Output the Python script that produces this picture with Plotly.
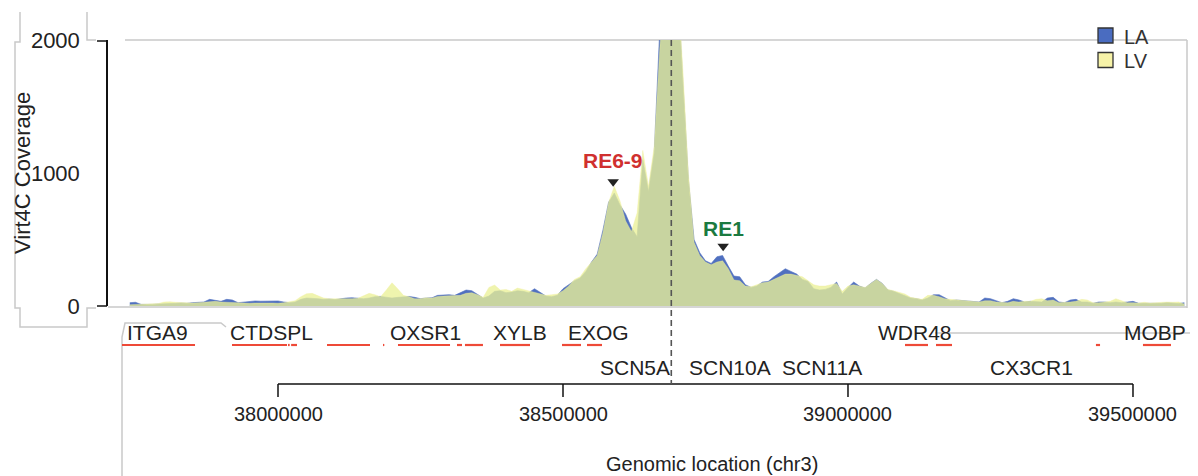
import numpy as np
import plotly.graph_objects as go

# ---------------- data ----------------
bin_start = 37_740_000
bin_step = 10_000
la = [25, 28, 12, 10, 12, 15, 15, 18, 20, 22, 20, 25, 28, 30, 50, 45, 35, 50, 45, 25,
      30, 38, 38, 36, 38, 35, 38, 30, 25, 30, 50, 60, 60, 55, 50, 52, 48, 55, 60, 62,
      60, 55, 60, 70, 72, 65, 60, 65, 70, 72, 65, 55, 60, 62, 80, 82, 85, 80, 100, 120,
      115, 90, 60, 75, 110, 115, 100, 105, 115, 110, 100, 130, 100, 75, 70, 80, 130, 158, 190, 210,
      260, 330, 390, 570, 780, 850, 760, 690, 590, 520, 1100, 860, 1150, 2100, 2500, 2500, 2500, 1700, 950, 500,
      400, 340, 320, 370, 380, 300, 225, 220, 160, 140, 150, 180, 185, 220, 250, 280, 260, 240, 200, 185,
      130, 120, 125, 140, 180, 90, 140, 180, 150, 135, 170, 200, 170, 120, 110, 95, 75, 60, 55, 45,
      60, 85, 85, 60, 40, 45, 40, 35, 30, 30, 60, 55, 40, 25, 35, 55, 45, 30, 35, 35,
      30, 60, 65, 30, 25, 45, 50, 30, 30, 20, 30, 30, 25, 30, 25, 30, 35, 20, 20, 15,
      20, 20, 25, 22, 18, 25]
lv = [10, 12, 12, 12, 15, 18, 30, 32, 28, 25, 25, 22, 25, 28, 30, 35, 30, 28, 25, 20,
      22, 20, 22, 20, 22, 22, 20, 25, 30, 40, 70, 92, 95, 80, 60, 55, 55, 50, 52, 55,
      58, 75, 95, 85, 70, 120, 175, 130, 80, 70, 55, 55, 62, 60, 72, 75, 75, 80, 80, 95,
      100, 85, 65, 140, 158, 120, 125, 110, 135, 125, 115, 105, 90, 80, 85, 90, 115, 150, 200, 220,
      280, 330, 380, 550, 780, 900, 790, 640, 560, 700, 1170, 900, 1200, 1950, 2500, 2500, 2500, 1800, 1000, 480,
      380, 330, 310, 330, 340, 280, 195, 190, 150, 145, 160, 175, 180, 200, 220, 240, 240, 230, 220, 190,
      160, 150, 150, 160, 170, 110, 150, 160, 150, 140, 170, 200, 170, 125, 115, 100, 90, 65, 55, 50,
      80, 80, 70, 55, 50, 45, 45, 40, 30, 30, 40, 40, 30, 25, 25, 35, 30, 35, 35, 50,
      55, 40, 45, 25, 25, 30, 35, 50, 45, 25, 25, 30, 35, 55, 40, 25, 25, 22, 28, 22,
      25, 30, 30, 28, 30, 15]
positions = bin_start + bin_step * np.arange(len(la))

series_names = ["LA", "LV"]

gene_names = ["ITGA9", "CTDSPL", "OXSR1", "XYLB", "EXOG", "WDR48", "MOBP",
              "SCN5A", "SCN10A", "SCN11A", "CX3CR1"]
gene_label_start = [37_731_600, 37_912_300, 38_193_000, 38_373_700, 38_505_300,
                    39_049_100, 39_481_000, 38_561_400, 38_717_500, 38_880_700, 39_245_600]
gene_row = [1, 1, 1, 1, 1, 1, 1, 2, 2, 2, 2]

exon_start = [37_726_300, 37_919_300, 38_017_500, 38_023_000, 38_086_000, 38_184_200,
              38_210_500, 38_314_000, 38_328_000, 38_389_500, 38_498_200, 38_542_100,
              39_100_000, 39_154_400, 39_435_000, 39_517_500]
exon_end = [37_854_400, 38_015_800, 38_020_500, 38_033_300, 38_161_400, 38_186_500,
            38_301_800, 38_322_800, 38_359_600, 38_442_100, 38_531_600, 38_568_400,
            39_140_400, 39_182_500, 39_442_200, 39_566_700]

scale_ticks = [38_000_000, 38_500_000, 39_000_000, 39_500_000]
scale_labels = ["38000000", "38500000", "39000000", "39500000"]

tss_position = 38_690_000

re_names = ["RE6-9", "RE1"]
re_positions = [38_588_000, 38_781_000]
re_marker_y = [935, 450]
re_label_y = [1095, 585]
re_colors = ["#d0302f", "#1b7a40"]

y_ticks = [0, 1000, 2000]

# ---------------- layout helpers ----------------
# the page body has an 8px margin, so the figure is drawn 8px in from the corner
OFF = 8
W, H = 1198 - OFF, 476 - OFF
REF_L, REF_R, REF_T, REF_B = 108, 1185, 40, 306   # plot area in page pixels
PW = REF_R - REF_L
PH = REF_B - REF_T
ML = REF_L - OFF
MT = REF_T - OFF
MR = W - (REF_R - OFF)
MB = H - (REF_B - OFF)


def px2x(px):
    return (px - REF_L) / PW


def py2y(py):
    return (REF_B - py) / PH


FONT = "Liberation Sans, Arial, sans-serif"
TXT = "#222222"
BLUE = "#5070c0"
YELLOW = "rgba(235,241,151,0.78)"
GRAY = "#c9c9c9"
legend_fill = ["#4a6cc0", "#f7f3a8"]

fig = go.Figure()

fig.add_trace(go.Scatter(x=positions, y=la, mode="lines", fill="tozeroy", name=series_names[0],
                         line=dict(color=BLUE, width=0.6), fillcolor=BLUE,
                         showlegend=False, hoverinfo="skip"))
fig.add_trace(go.Scatter(x=positions, y=lv, mode="lines", fill="tozeroy", name=series_names[1],
                         line=dict(color="rgba(240,238,160,0.6)", width=0.6), fillcolor=YELLOW,
                         showlegend=False, hoverinfo="skip"))

# RE markers
fig.add_trace(go.Scatter(x=re_positions, y=re_marker_y, mode="markers",
                         marker=dict(symbol="triangle-down", size=10, color="#222"),
                         showlegend=False, hoverinfo="skip", cliponaxis=False))

shapes = []
annotations = []

for name, xpos, ly, col in zip(re_names, re_positions, re_label_y, re_colors):
    annotations.append(dict(x=xpos, y=ly, xref="x", yref="y", text="<b>%s</b>" % name,
                            showarrow=False, font=dict(family=FONT, size=21, color=col),
                            xanchor="center", yanchor="middle"))

# plot frame (grey)
shapes.append(dict(type="line", xref="paper", yref="paper", x0=px2x(125), x1=px2x(1187),
                   y0=1, y1=1, line=dict(color=GRAY, width=1.5), layer="below"))
shapes.append(dict(type="line", xref="paper", yref="paper", x0=px2x(1187), x1=px2x(1187),
                   y0=1, y1=py2y(308), line=dict(color=GRAY, width=1.5), layer="below"))
shapes.append(dict(type="line", xref="paper", yref="paper", x0=0, x1=px2x(1187),
                   y0=py2y(307), y1=py2y(307), line=dict(color=GRAY, width=1.5), layer="below"))

# legend (drawn by hand so it sits exactly like the reference)
legend_rows_py = [35.5, 60]
for name, fillc, cy in zip(series_names, legend_fill, legend_rows_py):
    shapes.append(dict(type="rect", xref="paper", yref="paper",
                       x0=px2x(1098), x1=px2x(1113), y0=py2y(cy - 7.5), y1=py2y(cy + 7.5),
                       fillcolor=fillc, line=dict(color="#333", width=1.3)))
    annotations.append(dict(x=px2x(1122), y=py2y(cy + 1), xref="paper", yref="paper",
                            text=name, showarrow=False, xanchor="left", yanchor="middle",
                            font=dict(family=FONT, size=20, color="#333")))

# y-axis end ticks
for py in (41, 306):
    shapes.append(dict(type="line", xref="paper", yref="paper", x0=px2x(97), x1=px2x(107),
                       y0=py2y(py), y1=py2y(py), line=dict(color="#111", width=1.5)))

# left panel outline (grey)
left_path_pts = [(20, 12), (20, 42), (15, 42), (15, 308), (20, 308), (20, 327),
                 (87, 327), (87, 308), (96, 308)]
path = "M " + " L ".join("%f,%f" % (px2x(a), py2y(b)) for a, b in left_path_pts)
shapes.append(dict(type="path", xref="paper", yref="paper", path=path,
                   line=dict(color=GRAY, width=1.5)))
top_path_pts = [(87, 12), (87, 40), (96, 40)]
path = "M " + " L ".join("%f,%f" % (px2x(a), py2y(b)) for a, b in top_path_pts)
shapes.append(dict(type="path", xref="paper", yref="paper", path=path,
                   line=dict(color=GRAY, width=1.5)))

# gene panel outline (grey)
gene_path_pts = [(122, 480), (122, 337), (125, 323), (221, 323), (226, 327)]
path = "M " + " L ".join("%f,%f" % (px2x(a), py2y(b)) for a, b in gene_path_pts)
shapes.append(dict(type="path", xref="paper", yref="paper", path=path,
                   line=dict(color=GRAY, width=1.5)))
shapes.append(dict(type="line", xref="paper", yref="paper", x0=px2x(935), x1=px2x(1198),
                   y0=py2y(333), y1=py2y(333), line=dict(color=GRAY, width=1.5)))

# exons
for s, e in zip(exon_start, exon_end):
    shapes.append(dict(type="line", xref="x", yref="paper", x0=s, x1=e,
                       y0=py2y(345), y1=py2y(345), line=dict(color="#ee4a38", width=2.2)))

# gene labels
row_y = {1: py2y(332), 2: py2y(367)}
for name, s, r in zip(gene_names, gene_label_start, gene_row):
    annotations.append(dict(x=s, y=row_y[r], xref="x", yref="paper", text=name,
                            showarrow=False, xanchor="left", yanchor="middle",
                            font=dict(family=FONT, size=21, color=TXT)))

# scale bar
shapes.append(dict(type="line", xref="x", yref="paper", x0=scale_ticks[0], x1=scale_ticks[-1],
                   y0=py2y(384), y1=py2y(384), line=dict(color="#111", width=1.5)))
for t, lab in zip(scale_ticks, scale_labels):
    shapes.append(dict(type="line", xref="x", yref="paper", x0=t, x1=t,
                       y0=py2y(384), y1=py2y(397), line=dict(color="#111", width=1.5)))
    annotations.append(dict(x=t, y=py2y(414), xref="x", yref="paper", text=lab,
                            showarrow=False, xanchor="center", yanchor="middle",
                            font=dict(family=FONT, size=20, color=TXT)))
annotations.append(dict(x=px2x(712), y=py2y(464), xref="paper", yref="paper",
                        text="Genomic location (chr3)", showarrow=False,
                        xanchor="center", yanchor="middle",
                        font=dict(family=FONT, size=20, color=TXT)))

# TSS dashed line
shapes.append(dict(type="line", xref="x", yref="paper", x0=tss_position, x1=tss_position,
                   y0=1, y1=py2y(384), line=dict(color="#555", width=1.6, dash="6px,4px")))

# y title
annotations.append(dict(x=px2x(22), y=0.5, xref="paper", yref="paper",
                        text="Virt4C Coverage", textangle=-90, showarrow=False,
                        xanchor="center", yanchor="middle",
                        font=dict(family=FONT, size=22, color=TXT)))

fig.update_layout(
    width=W, height=H,
    margin=dict(l=ML, r=MR, t=MT, b=MB, pad=0),
    paper_bgcolor="white", plot_bgcolor="white",
    showlegend=False,
    xaxis=dict(range=[37_701_750, 39_591_250], visible=False, showgrid=False, zeroline=False),
    yaxis=dict(range=[0, 2000], tickvals=y_ticks, ticktext=[str(v) for v in y_ticks],
               ticks="", showline=True, linecolor="#111", linewidth=1.5,
               showgrid=False, zeroline=False, ticklabelstandoff=22,
               tickfont=dict(family=FONT, size=22, color=TXT)),
    shapes=shapes, annotations=annotations,
)

fig.write_html("out.html")
